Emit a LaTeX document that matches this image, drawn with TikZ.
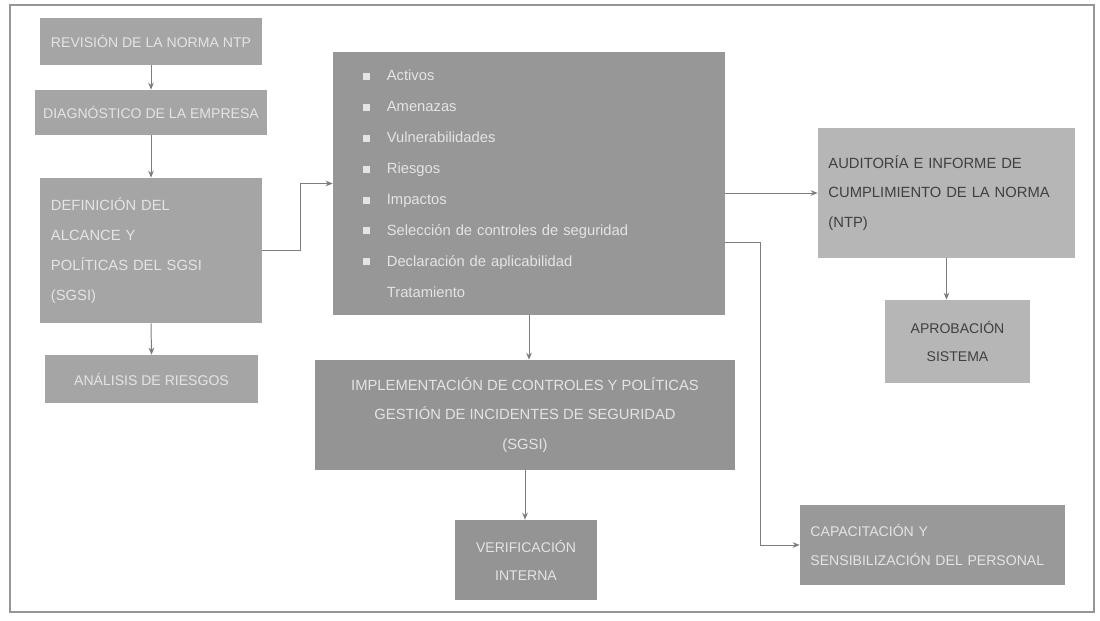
\documentclass[tikz,border=0pt]{standalone}
\usepackage{fontspec}
\setmainfont{Liberation Sans}
\usetikzlibrary{arrows.meta}
\definecolor{boxgray}{RGB}{165, 165, 165}
\definecolor{darkbox}{RGB}{148, 148, 148}
\definecolor{lightbox}{RGB}{182, 182, 182}
\definecolor{paletext}{RGB}{228, 228, 228}
\definecolor{linegray}{RGB}{125, 125, 125}
\definecolor{framegray}{RGB}{150, 150, 150}
\tikzset{
    stagebox/.style={fill=boxgray, draw=none, text=paletext, font=\fontsize{10}{20}\selectfont, inner sep=6pt},
    link/.style={draw=linegray, line width=0.7pt, -{Stealth[length=5pt, width=4pt]}}
}
\newcommand{\sq}{\rule[0.5pt]{5pt}{5pt}\hspace{12pt}}
\begin{document}
\begin{tikzpicture}[x=0.025cm, y=-0.025cm]
            \useasboundingbox (0,0) rectangle (1100,620);
            \fill[white] (0,0) rectangle (1100,620);
            \draw[framegray, line width=2pt] (10,5) rectangle (1094,612);
            % left column
            \node[stagebox, minimum width=5.55cm, minimum height=1.175cm]                     (revision)  at (151, 41.5) {REVISIÓN DE LA NORMA NTP};
            \node[stagebox, minimum width=5.55cm, minimum height=1.125cm]                     (diagnos)   at (151,112.5) {DIAGNÓSTICO DE LA EMPRESA};
            \node[stagebox, minimum width=5.55cm, minimum height=3.625cm, text width=5.0cm, align=left,
                  font=\fontsize{10.5}{21.5}\selectfont] (alcance) at (151,250.5)
                 {DEFINICIÓN DEL\\ALCANCE Y\\POLÍTICAS DEL SGSI\\(SGSI)};
            \node[stagebox, minimum width=5.325cm, minimum height=1.2cm]                      (riesgos)   at (151.5,379) {ANÁLISIS DE RIESGOS};
            % centre
            \node[stagebox, fill=darkbox!85!boxgray, minimum width=9.8cm, minimum height=6.575cm, text width=8.3cm, align=left,
                  font=\fontsize{10.5}{22}\selectfont] (evalua) at (529,183.5)
                 {\sq Activos\\\sq Amenazas\\\sq Vulnerabilidades\\\sq Riesgos\\\sq Impactos\\
                  \sq Selección de controles de seguridad\\\sq Declaración de aplicabilidad\\\hspace{17pt}Tratamiento};
            \node[stagebox, fill=darkbox, minimum width=10.5cm, minimum height=2.75cm, align=center,
                  font=\fontsize{10.5}{21}\selectfont] (implanta) at (525,415)
                 {IMPLEMENTACIÓN DE CONTROLES Y POLÍTICAS\\GESTIÓN DE INCIDENTES DE SEGURIDAD\\(SGSI)};
            \node[stagebox, fill=darkbox, minimum width=3.55cm, minimum height=2.0cm, align=center]    (verifica) at (526,560)
                 {VERIFICACIÓN\\INTERNA};
            % right column
            \node[stagebox, fill=lightbox, text=black!75, minimum width=6.425cm, minimum height=3.25cm, text width=5.9cm, align=left,
                  font=\fontsize{10.5}{21}\selectfont] (auditoria) at (946.5,193)
                 {AUDITORÍA E INFORME DE\\CUMPLIMIENTO DE LA NORMA\\(NTP)};
            \node[stagebox, fill=lightbox, text=black!75, minimum width=3.625cm, minimum height=2.075cm, align=center] (aprueba) at (957.5,341.5)
                 {APROBACIÓN\\SISTEMA};
            \node[stagebox, fill=darkbox!70!boxgray, minimum width=6.625cm, minimum height=2.0cm, text width=6.1cm, align=left] (capacita) at (932.5,545)
                 {CAPACITACIÓN Y\\SENSIBILIZACIÓN DEL PERSONAL};
            % connectors
            \coordinate (turn) at (760,242);
            \draw[link] (revision.south) -- (diagnos.north);
            \draw[link] (diagnos.south)  -- (alcance.north);
            \draw[link] (alcance.south)  -- (riesgos.north);
            \draw[link] (alcance.east) -- ++(38,0) |- (evalua.west);
            \draw[link] (auditoria.west -| evalua.east) -- (auditoria.west);
            \draw[link] (evalua.east |- turn) -- (turn) |- (capacita.west);
            \draw[link] (evalua.south) -- (evalua.south |- implanta.north);
            \draw[link] (implanta.south) -- (implanta.south |- verifica.north);
            \draw[link] (auditoria.south) -- (auditoria.south |- aprueba.north);
\end{tikzpicture}
\end{document}
